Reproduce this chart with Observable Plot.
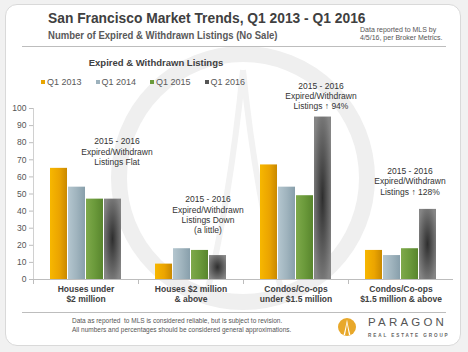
<!DOCTYPE html>
<html><head><meta charset="utf-8">
<script src="https://cdn.jsdelivr.net/npm/d3@7"></script>
<script src="https://cdn.jsdelivr.net/npm/@observablehq/plot@0.6"></script>
<style>
body{margin:0;background:#f1f1f1;font-family:"Liberation Sans",Arial,sans-serif;}
#page{position:relative;width:468px;height:352px;overflow:hidden;}
#card{position:absolute;left:5px;top:4px;width:456px;height:342px;background:#fff;border:1px solid #d9d9d9;border-radius:12px;box-sizing:border-box;}
.abs{position:absolute;white-space:nowrap;}
#title{left:48px;top:11px;font-size:13.8px;font-weight:bold;color:#404040;}
#subtitle{left:48px;top:29px;font-size:11.5px;font-weight:bold;color:#595959;transform-origin:left top;transform:scaleX(0.83);}
#note{left:360px;top:26px;font-size:7px;line-height:8px;color:#555;}
.hr{position:absolute;left:22px;width:424px;height:1px;background:#bdbdbd;}
#ctitle{left:0;width:312px;text-align:center;top:57px;font-size:9.5px;font-weight:bold;color:#404040;}
#legend{left:41px;top:77px;display:flex;gap:14px;font-size:9px;color:#595959;}
#legend span.sw{display:inline-block;width:4px;height:4px;margin-right:2px;vertical-align:middle;position:relative;top:-1px;}
#chart{position:absolute;left:0;top:100px;}
#foot{left:72px;top:317px;font-size:6.5px;line-height:8.5px;color:#555;}
#brand{left:368px;top:316px;font-size:11.5px;letter-spacing:3.2px;color:#555;}
#brand2{left:368px;top:333px;font-size:4.6px;letter-spacing:1.9px;color:#666;font-weight:bold;}
</style></head>
<body>
<svg width="0" height="0" style="position:absolute">
  <defs>
    <linearGradient id="gOrange" x1="0" x2="1" y1="0" y2="0">
      <stop offset="0" stop-color="#f7b700"/><stop offset="0.55" stop-color="#eba400"/><stop offset="1" stop-color="#c98900"/>
    </linearGradient>
    <linearGradient id="gBlue" x1="0" x2="1" y1="0" y2="0">
      <stop offset="0" stop-color="#b4c6cf"/><stop offset="0.5" stop-color="#a0b4be"/><stop offset="1" stop-color="#889fab"/>
    </linearGradient>
    <linearGradient id="gGreen" x1="0" x2="1" y1="0" y2="0">
      <stop offset="0" stop-color="#7fa94b"/><stop offset="0.5" stop-color="#6b9a3b"/><stop offset="1" stop-color="#58852d"/>
    </linearGradient>
    <radialGradient id="gGray" cx="0.5" cy="0.5" r="0.6">
      <stop offset="0" stop-color="#2e2e2e"/><stop offset="1" stop-color="#858585"/>
    </radialGradient>
  </defs>
</svg>
<div id="page">
  <div id="card"></div>
  <svg class="abs" style="left:0;top:0" width="468" height="352">
    <circle cx="243" cy="178" r="124" fill="none" stroke="#efefef" stroke-width="16"/>
    <path d="M243 70 C 236 140, 226 220, 205 300 M243 70 C 250 140, 262 220, 284 300" fill="none" stroke="#f2f2f2" stroke-width="6"/>
  </svg>
  <div id="title" class="abs">San Francisco Market Trends, Q1 2013 - Q1 2016</div>
  <div id="subtitle" class="abs">Number of Expired &amp; Withdrawn Listings (No Sale)</div>
  <div id="note" class="abs">Data reported to MLS by<br>4/5/16, per Broker Metrics.</div>
  <div class="hr" style="top:46px"></div>
  <div id="ctitle" class="abs">Expired &amp; Withdrawn Listings</div>
  <div id="legend" class="abs"></div>
  <div id="chart"></div>
  <div class="hr" style="top:312px"></div>
  <div id="foot" class="abs">Data as reported &nbsp;to MLS is considered reliable, but is subject to revision.<br>All numbers and percentages should be considered general approximations.</div>
  <svg class="abs" style="left:337px;top:317px" width="20" height="20">
    <circle cx="10" cy="10" r="9" fill="#e8a82a"/>
    <path d="M10 2.5 C 9 8, 8 13, 6.5 18 L 8 18 C 9 13, 9.6 9, 10 6 C 10.4 9, 11 13, 12 18 L 13.5 18 C 12 13, 11 8, 10 2.5Z" fill="#fff"/>
  </svg>
  <div id="brand" class="abs">PARAGON</div>
  <div id="brand2" class="abs">REAL ESTATE GROUP</div>
</div>
<script>
const categories = ["Houses under\n$2 million", "Houses $2 million\n& above", "Condos/Co-ops\nunder $1.5 million", "Condos/Co-ops\n$1.5 million & above"];
const years = ["Q1 2013", "Q1 2014", "Q1 2015", "Q1 2016"];
const q1_2013 = [65, 9, 67, 17];
const q1_2014 = [54, 18, 54, 14];
const q1_2015 = [47, 17, 49, 18];
const q1_2016 = [47, 14, 95, 41];
const yTicks = [0, 10, 20, 30, 40, 50, 60, 70, 80, 90, 100];
const noteTexts = [
  "2015 - 2016\nExpired/Withdrawn\nListings Flat",
  "2015 - 2016\nExpired/Withdrawn\nListings Down\n(a little)",
  "2015 - 2016\nExpired/Withdrawn\nListings \u2191 94%",
  "2015 - 2016\nExpired/Withdrawn\nListings \u2191 128%"
];
const noteYears = ["Q1 2016", "Q1 2016", "Q1 2016", "Q1 2015"];
const noteLevels = [75, 38, 107.5, 57.5];
const fills = ["url(#gOrange)", "url(#gBlue)", "url(#gGreen)", "url(#gGray)"];
const swatches = ["#e8a500", "#9db2bd", "#6a9a3a", "#555555"];

const series = [q1_2013, q1_2014, q1_2015, q1_2016];
const rows = [];
categories.forEach((c, i) => years.forEach((y, j) => rows.push({cat: c, year: y, value: series[j][i]})));
const notes = categories.map((c, i) => ({cat: c, year: noteYears[i], level: noteLevels[i], text: noteTexts[i]}));
const noteShift = [4, -10, -2, 0];

const legend = document.getElementById("legend");
years.forEach((y, j) => {
  const s = document.createElement("span");
  s.innerHTML = `<span class="sw" style="background:${swatches[j]}"></span>${y}`;
  legend.appendChild(s);
});

const chart = Plot.plot({
  width: 468, height: 210,
  marginLeft: 32, marginRight: 14, marginTop: 8, marginBottom: 31,
  style: {fontFamily: "Liberation Sans, Arial, sans-serif", color: "#404040", background: "transparent", overflow: "visible"},
  fx: {domain: categories, padding: 0, label: null},
  x: {domain: years, paddingInner: 0.03, paddingOuter: 0.78, axis: null},
  y: {domain: [0, 100], label: null},
  color: {domain: years, range: fills, type: "ordinal"},
  marks: [
    Plot.frame({anchor: "left", facet: "super", stroke: "#d0d0d0"}),
    Plot.frame({anchor: "left", stroke: "#bdbdbd", insetTop: 171, insetBottom: -4}),
    Plot.barY(rows, {fx: "cat", x: "year", y: "value", fill: "year"}),
    Plot.ruleY([0], {stroke: "#bdbdbd"}),
    ...notes.map((n, i) => Plot.text([n], {fx: "cat", x: "year", y: "level", text: "text", dx: noteShift[i], fontSize: 8.5, lineHeight: 1.2, fill: "#333"})),
    Plot.axisY({ticks: yTicks, tickSize: 4, tickPadding: 3, fontSize: 8.5, stroke: "#bdbdbd", fill: "#555", label: null}),
    Plot.axisFx({anchor: "bottom", tickSize: 0, tickPadding: 5, fontSize: 8.5, fontWeight: "bold", lineHeight: 1.2, fill: "#404040", label: null})
  ]
});
document.getElementById("chart").appendChild(chart);
</script>
</body></html>
